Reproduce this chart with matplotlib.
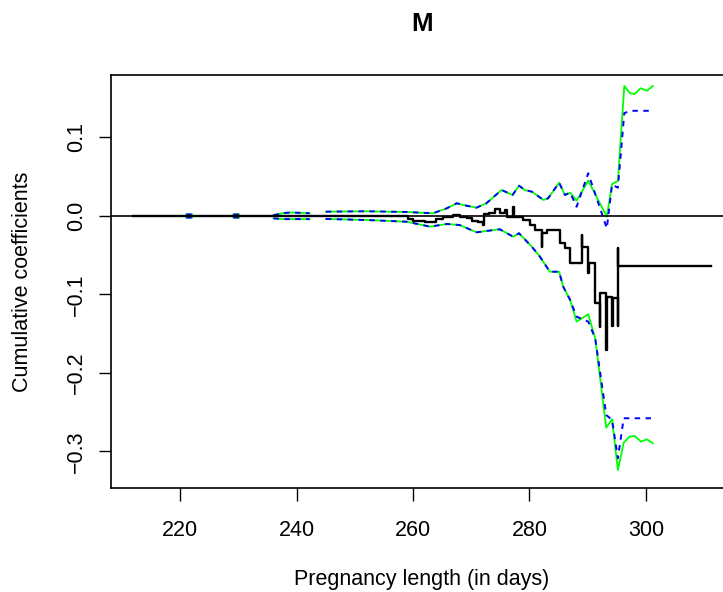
"""
Cumulative coefficient plot for M with pointwise and uniform bands.
"""

import numpy as np
import matplotlib
matplotlib.use('Agg')
import matplotlib.pyplot as plt

plt.rcParams['font.family'] = ['Liberation Sans', 'DejaVu Sans']

nan = np.nan

# ---------------------------------------------------------------------------
# Data
# ---------------------------------------------------------------------------
title = "M"
xlabel = "Pregnancy length (in days)"
ylabel = "Cumulative coefficients"
xticks = [220, 240, 260, 280, 300]
yticks = [-0.3, -0.2, -0.1, 0.0, 0.1]
ytick_labels = ["\u22120.3", "\u22120.2", "\u22120.1", "0.0", "0.1"]

# cumulative estimate (step function)
coef_t = [211.8, 259.1, 260.0, 262.0, 264.0, 265.2, 266.9, 268.0, 269.2, 270.1,
          271.2, 272.05, 272.15, 273.1, 274.1, 274.9, 275.8, 276.1, 277.2, 277.3,
          278.9, 280.1, 280.9, 282.1, 282.2, 283.0, 285.2, 286.1, 287.0, 289.0,
          289.1, 290.1, 290.2, 291.3, 292.1, 292.2, 293.2, 293.3, 294.2, 294.3,
          295.2, 295.25, 295.3, 311.2]
coef_v = [0.0, -0.0038, -0.0060, -0.0073, -0.0038, -0.0009, 0.0013, -0.0009, -0.0029, -0.0064,
          -0.0073, -0.0111, 0.0025, 0.0034, 0.0085, 0.0034, 0.0076, -0.0009, 0.0119, -0.0009,
          -0.0051, -0.0115, -0.0178, -0.0391, -0.0221, -0.0178, -0.0348, -0.0412, -0.0595, -0.0242,
          -0.0391, -0.0722, -0.0603, -0.1112, -0.1410, -0.0985, -0.1707, -0.1028, -0.1401, -0.1048,
          -0.1401, -0.0408, -0.0633, -0.0633]

# upper band (green = pointwise, blue = uniform)
up_t = [221.0, 222.0, nan, 229.1, 230.1, nan, 236.0, 237.5, 239.0, 240.5, 242.2, nan,
        245.0, 252.0, 258.9, 263.4, 265.8, 267.5, 268.6, 270.9, 272.6, 275.2,
        277.1, 278.2, 279.2, 280.4, 282.4, 283.2, 285.1, 286.1, 287.0, 288.1,
        290.1, 293.3, 294.2, 295.2, 296.3, 297.3, 298.1, 299.1, 300.2, 301.2]
up_green = [0.002, 0.002, nan, 0.002, 0.002, nan, 0.001, 0.0035, 0.0045, 0.004, 0.0035, nan,
            0.0055, 0.0060, 0.0051, 0.0034, 0.0098, 0.0162, 0.0140, 0.0106, 0.0162, 0.0331,
            0.0268, 0.0386, 0.0331, 0.0310, 0.0204, 0.0225, 0.0424, 0.0268, 0.0297, 0.0195,
            0.0450, -0.0009, 0.0408, 0.0446, 0.1656, 0.1563, 0.1554, 0.1627, 0.1596, 0.1656]
up_blue = [0.002, 0.002, nan, 0.002, 0.002, nan, 0.001, 0.0035, 0.0045, 0.004, 0.0035, nan,
           0.0055, 0.0060, 0.0051, 0.0034, 0.0098, 0.0162, 0.0140, 0.0106, 0.0162, 0.0331,
           0.0268, 0.0386, 0.0331, 0.0310, 0.0204, 0.0225, 0.0424, 0.0268, 0.0297, 0.0118,
           0.0544, -0.0157, 0.0400, 0.0360, 0.1310, 0.1340, 0.1340, 0.1340, 0.1340, 0.1340]

# lower band
lo_t = [221.0, 222.0, nan, 229.1, 230.1, nan, 236.0, 237.5, 239.0, 240.5, 242.2, nan,
        245.0, 252.0, 258.9, 262.9, 265.8, 268.0, 270.9, 274.9, 277.2, 278.2,
        280.4, 281.8, 283.5, 285.1, 285.8, 287.0, 288.1, 290.1, 291.3, 293.2,
        294.2, 295.2, 296.2, 297.2, 298.1, 299.2, 300.2, 301.2]
lo_green = [-0.002, -0.002, nan, -0.002, -0.002, nan, -0.003, -0.004, -0.004, -0.004, -0.004, nan,
            -0.0038, -0.0051, -0.0073, -0.0136, -0.0102, -0.0115, -0.0208, -0.0169, -0.0264, -0.0220,
            -0.0391, -0.0518, -0.0710, -0.0710, -0.0901, -0.1070, -0.1346, -0.1252, -0.1558, -0.2697,
            -0.2590, -0.3236, -0.2888, -0.2811, -0.2803, -0.2875, -0.2845, -0.2896]
lo_blue = [-0.002, -0.002, nan, -0.002, -0.002, nan, -0.003, -0.004, -0.004, -0.004, -0.004, nan,
           -0.0038, -0.0051, -0.0073, -0.0136, -0.0102, -0.0115, -0.0208, -0.0169, -0.0264, -0.0220,
           -0.0391, -0.0518, -0.0710, -0.0710, -0.0901, -0.1070, -0.1283, -0.1346, -0.1558, -0.2535,
           -0.2599, -0.3087, -0.2577, -0.2577, -0.2577, -0.2577, -0.2577, -0.2577]

# ---------------------------------------------------------------------------
# Plot
# ---------------------------------------------------------------------------
fig = plt.figure(figsize=(7.23, 5.92), dpi=100)
# right edge of the box sits just past the picture, as in the reference
ax = fig.add_axes([0.1530, 0.1752, 0.8606, 0.6981])

ax.plot(up_t, up_green, color='#00FF00', lw=1.3)
ax.plot(lo_t, lo_green, color='#00FF00', lw=1.3)
ax.plot(up_t, up_blue, color='#0000FF', lw=1.4, dashes=(2.8, 2.8))
ax.plot(lo_t, lo_blue, color='#0000FF', lw=1.4, dashes=(2.8, 2.8))
ax.step(coef_t, coef_v, where='post', color='black', lw=1.7)
ax.axhline(0, color='black', lw=1.2)

ax.set_xlim(208.0, 314.96)
ax.set_ylim(-0.3469, 0.1796)

ax.set_xticks(xticks)
ax.set_yticks(yticks)
ax.set_yticklabels(ytick_labels, rotation=90, va='center')
ax.tick_params(direction='out', length=9, width=1.0, labelsize=15.5, colors='black')
ax.tick_params(axis='x', pad=14)
ax.tick_params(axis='y', pad=8)

for sp in ax.spines.values():
    sp.set_linewidth(1.2)

ax.set_xlabel(xlabel, fontsize=15.5, labelpad=20)
ax.set_ylabel(ylabel, fontsize=15.5, labelpad=24)
fig.text(422 / 723, 1 - 24 / 592, title, fontsize=18.6, fontweight='bold',
         ha='center', va='center')

fig.savefig('out.png', dpi=100)
